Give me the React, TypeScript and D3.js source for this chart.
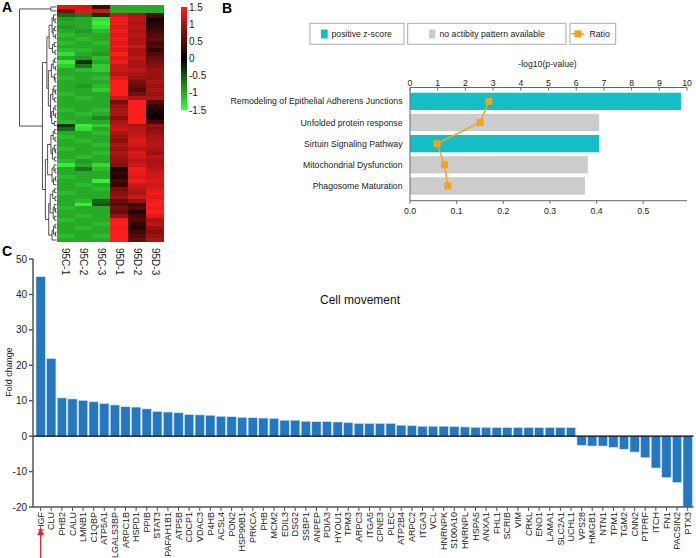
import React from "react";
import * as d3 from "d3";

// ---------- Panel A data ----------
const samples = ["95C-1", "95C-2", "95C-3", "95D-1", "95D-2", "95D-3"];
const heatRows: number[][] = [
  [1.3, 1.2, 0.4, -1.0, -1.0, -1.0],
  [0.7, 1.3, 1.2, -1.0, -1.0, -1.0],
  [-0.6, -0.7, -0.3, 1.2, 1.0, 0.5],
  [-0.9, -1.0, -1.3, 1.4, 1.1, 0.1],
  [-1.0, -1.0, -1.4, 1.4, 1.0, 0.2],
  [-0.9, -1.0, -1.3, 1.3, 1.1, 0.3],
  [-1.0, -0.9, -1.1, 1.4, 1.0, 0.4],
  [-1.1, -1.0, -1.0, 1.3, 1.1, 0.5],
  [-1.0, -1.1, -1.0, 1.4, 1.0, 0.6],
  [-1.1, -1.0, -1.1, 1.3, 1.0, 0.4],
  [-1.0, -1.0, -1.0, 1.4, 1.2, 0.5],
  [-1.1, -1.1, -1.0, 1.3, 1.0, 0.3],
  [-1.3, -1.0, -0.9, 1.5, 1.0, 0.5],
  [-1.0, -0.9, -1.1, 1.3, 1.1, 0.6],
  [-1.4, -0.3, -1.0, 1.4, 1.0, 0.7],
  [-1.2, -0.7, -1.2, 1.2, 1.0, 0.8],
  [-1.0, -1.1, -1.2, 1.2, 1.1, 0.9],
  [-1.0, -1.0, -1.0, 1.1, 1.0, 0.9],
  [-1.1, -1.0, -1.1, 1.3, 0.9, 0.9],
  [-1.0, -1.0, -1.0, 1.5, 0.7, 1.0],
  [-1.0, -0.9, -1.1, 1.5, 0.6, 0.9],
  [-1.0, -1.0, -1.2, 1.5, 0.5, 1.0],
  [-1.1, -1.0, -1.0, 1.5, 0.7, 0.9],
  [-1.0, -1.1, -1.0, 1.2, 1.0, 1.0],
  [-1.0, -1.0, -1.0, 0.7, 1.5, 0.5],
  [-1.0, -1.0, -1.0, 0.9, 1.5, 0.3],
  [-1.1, -1.0, -1.1, 1.0, 1.5, 0.2],
  [-1.0, -1.1, -1.0, 1.0, 1.5, 0.1],
  [-1.0, -1.0, -0.8, 0.8, 1.5, 0.1],
  [-1.1, -1.0, -1.0, 1.0, 1.5, 0.4],
  [-0.3, -1.4, -1.2, 1.1, 1.0, 0.9],
  [-0.6, -1.3, -1.0, 1.2, 1.1, 0.8],
  [-1.0, -1.0, -1.1, 1.0, 1.1, 0.9],
  [-1.1, -1.0, -1.0, 0.9, 1.2, 1.0],
  [-1.0, -1.1, -1.0, 0.8, 1.3, 1.0],
  [-1.0, -1.0, -1.1, 1.0, 1.2, 1.1],
  [-1.1, -1.0, -1.0, 0.9, 1.1, 1.0],
  [-1.0, -1.0, -1.1, 1.0, 1.3, 0.9],
  [-1.0, -1.1, -1.0, 0.9, 1.2, 1.1],
  [-1.1, -0.9, -1.0, 0.9, 1.1, 1.0],
  [-1.4, -1.0, -1.3, 0.8, 1.2, 1.0],
  [-1.0, -0.7, -1.1, 0.1, 1.4, 1.1],
  [-1.0, -1.0, -1.0, 0.3, 1.4, 1.2],
  [-1.1, -1.0, -1.0, 0.2, 1.3, 1.2],
  [-1.0, -1.0, -1.4, 0.4, 1.4, 1.3],
  [-1.0, -1.1, -1.0, 0.3, 1.2, 1.2],
  [-1.0, -1.0, -1.1, 0.7, 1.1, 1.3],
  [-1.1, -1.0, -1.0, 0.8, 1.0, 1.4],
  [-1.0, -1.0, -1.0, 0.9, 1.2, 1.3],
  [-1.0, -1.1, -0.6, 0.6, 0.9, 1.4],
  [-1.0, -1.4, -0.5, 0.5, 0.3, 1.5],
  [-1.1, -1.0, -1.0, 0.7, 0.5, 1.4],
  [-1.0, -1.0, -1.0, 0.6, 0.2, 1.5],
  [-1.0, -1.1, -1.0, 0.9, 0.4, 1.3],
  [-1.1, -1.0, -1.0, 1.5, 0.5, 1.0],
  [-1.0, -1.0, -1.1, 1.5, 0.3, 1.1],
  [-1.0, -1.1, -1.0, 1.4, 0.2, 0.9],
  [-1.0, -1.0, -1.0, 1.5, 0.4, 0.8],
  [-1.1, -1.0, -1.1, 1.5, 0.5, 0.9],
  [-1.0, -1.0, -1.0, 1.5, 0.6, 1.0],
];
// merge height between adjacent rows i and i+1 (dendrogram)
const mergeGaps = [
  1.5, 10, 0.8, 0.4, 1.2, 0.5, 0.9, 0.3, 2.0, 0.6, 1.1, 0.4, 2.6, 0.5, 0.9,
  0.3, 1.4, 0.6, 0.4, 2.2, 0.7, 0.3, 1.0, 0.5, 1.6, 0.4, 0.8, 0.3, 1.3, 0.6,
  3.8, 0.5, 0.9, 0.4, 1.5, 0.6, 0.3, 1.1, 0.5, 2.4, 0.7, 0.4, 1.2, 0.3, 0.8,
  3.0, 0.5, 1.0, 0.4, 1.7, 0.6, 0.3, 0.9, 0.5, 2.1, 0.4, 0.8, 0.3, 1.2,
];
const colorTicks = [1.5, 1, 0.5, 0, -0.5, -1, -1.5];

// ---------- Panel B data ----------
const pathways = [
  "Remodeling of Epithelial Adherens Junctions",
  "Unfolded protein response",
  "Sirtuin Signaling Pathway",
  "Mitochondrial Dysfunction",
  "Phagosome Maturation",
];
const pathwayLogP = [9.78, 6.83, 6.83, 6.42, 6.32];
const pathwayRatio = [0.169, 0.15, 0.058, 0.074, 0.081];
const pathwayZ = ["positive", "none", "positive", "none", "none"];
const topTicks = [0, 1, 2, 3, 4, 5, 6, 7, 8, 9, 10];
const ratioTicks = [0, 0.1, 0.2, 0.3, 0.4, 0.5];

// ---------- Panel C data ----------
const genes = [
  "HGF", "CLU", "PHB2", "CALU", "LMNB1", "C1QBP", "ATP5A1", "LGALS3BP", "ARPC1B",
  "HSPD1", "PPIB", "STAT3", "PAFAH1B1", "ATP5B", "CDCP1", "VDAC3", "P4HB", "ACSL4",
  "PON2", "HSP90B1", "PRKCA", "PHB", "MCM2", "EDIL3", "DSG2", "SSBP1", "ANPEP",
  "PDIA3", "HYOU1", "TPM3", "ARPC3", "ITGA5", "CPNE3", "PLEC", "ATP2B4", "ARPC2",
  "ITGA3", "VCL", "HNRNPK", "S100A10", "HNRNPL", "HSPA5", "ANXA1", "FHL1", "SCRIB",
  "VIM", "CRKL", "ENO1", "LAMA1", "SLC2A1", "UCHL1", "VPS28", "HMGB1", "NTN1",
  "TPM1", "TGM2", "CNN2", "PTPRF", "ITCH", "FN1", "PACSIN2", "PTX3",
];
const foldChange = [
  45, 21.9, 10.8, 10.5, 10.1, 9.7, 9.2, 8.8, 8.3, 8.2, 7.7, 7.0, 6.8, 6.6, 6.1,
  6.0, 5.9, 5.6, 5.5, 5.3, 5.2, 5.1, 5.0, 4.5, 4.5, 4.2, 4.1, 4.1, 4.0, 3.8, 3.6,
  3.6, 3.6, 3.6, 3.1, 3.0, 2.8, 2.8, 2.8, 2.7, 2.6, 2.5, 2.5, 2.4, 2.4, 2.4, 2.4,
  2.4, 2.4, 2.4, 2.4, -2.6, -2.8, -2.8, -3.2, -3.7, -4.5, -6.1, -9.0, -11.7,
  -13.1, -20,
];
const foldTicks = [50, 40, 30, 20, 10, 0, -10, -20];

const FONT = "'Liberation Sans', Arial, Helvetica, sans-serif";

type Node = { h: number; y: number; left?: Node; right?: Node };

function buildTree(lo: number, hi: number, rowY: (i: number) => number): Node {
  if (lo === hi) return { h: 0, y: rowY(lo) };
  let k = lo;
  for (let i = lo; i < hi; i++) if (mergeGaps[i] > mergeGaps[k]) k = i;
  const left = buildTree(lo, k, rowY);
  const right = buildTree(k + 1, hi, rowY);
  return { h: mergeGaps[k], y: (left.y + right.y) / 2, left, right };
}

export default function App() {
  // ----- Panel A -----
  const heatX = d3.scaleBand<string>().domain(samples).range([56.7, 164]);
  const heatY = d3
    .scaleBand<number>()
    .domain(heatRows.map((_, i) => i))
    .range([5, 242]);
  const color = d3
    .scaleLinear<string>()
    .domain([-1.5, 0, 1.5])
    .range(["#3cff3c", "#000000", "#ff1e1e"])
    .clamp(true);
  const dendX = d3.scaleLinear().domain([0, 10]).range([56.5, 19.5]);
  const tree = buildTree(0, heatRows.length - 1, (i) => (heatY(i) as number) + heatY.bandwidth() / 2);
  const dendSegs: string[] = [];
  const walk = (n: Node) => {
    if (!n.left || !n.right) return;
    const x = dendX(n.h);
    dendSegs.push(`M${x},${n.left.y}V${n.right.y}`);
    dendSegs.push(`M${x},${n.left.y}H${dendX(n.left.h)}`);
    dendSegs.push(`M${x},${n.right.y}H${dendX(n.right.h)}`);
    walk(n.left);
    walk(n.right);
  };
  walk(tree);
  const cbY = d3.scaleLinear().domain([1.5, -1.5]).range([7, 110]);

  // ----- Panel B -----
  const xTop = d3.scaleLinear().domain([0, 10]).range([410, 687]);
  const xRatio = d3.scaleLinear().domain([0, 0.5]).range([410, 643.3]);
  const yPath = d3
    .scaleBand<string>()
    .domain(pathways)
    .range([90.8, 196.5])
    .paddingInner(0.18)
    .paddingOuter(0.09);
  const ratioLine = d3
    .line<number>()
    .x((d) => xRatio(d))
    .y((_, i) => (yPath(pathways[i]) as number) + yPath.bandwidth() / 2);
  const teal = "#14bec4";
  const grayBar = "#cccccc";
  const orange = "#f5a31f";
  const fsB = 8.7;

  // ----- Panel C -----
  const xGene = d3.scaleBand<string>().domain(genes).range([34.7, 693.6]).padding(0.12);
  const yFold = d3.scaleLinear().domain([-20, 50]).range([507, 259]);
  const blue = "#2577bf";

  return (
    <svg
      width={696}
      height={558}
      style={{ position: "absolute", left: 0, top: 0, background: "#fff" }}
      fontFamily={FONT}
    >
      {/* Panel labels */}
      <text x={2} y={12} fontSize={14} fontWeight="bold">A</text>
      <text x={222} y={13} fontSize={14} fontWeight="bold">B</text>
      <text x={2} y={256} fontSize={14} fontWeight="bold">C</text>

      {/* Heatmap */}
      <g shapeRendering="crispEdges">
        {heatRows.map((row, i) =>
          row.map((v, j) => (
            <rect
              key={`${i}-${j}`}
              x={heatX(samples[j])}
              y={heatY(i)}
              width={heatX.bandwidth() + 0.3}
              height={heatY.bandwidth() + 0.3}
              fill={color(v)}
            />
          ))
        )}
      </g>
      <path d={dendSegs.join("")} fill="none" stroke="#222" strokeWidth={0.8} />
      {samples.map((s) => (
        <text
          key={s}
          transform={`translate(${(heatX(s) as number) + heatX.bandwidth() / 2 - 3.5},248) rotate(90)`}
          fontSize={10}
          fill="#222"
        >
          {s}
        </text>
      ))}
      <defs>
        <linearGradient id="cbar" x1="0" y1="0" x2="0" y2="1">
          {colorTicks.map((t, i) => (
            <stop key={t} offset={i / (colorTicks.length - 1)} stopColor={color(t)} />
          ))}
        </linearGradient>
      </defs>
      <rect x={181} y={cbY(1.5)} width={6} height={cbY(-1.5) - cbY(1.5)} fill="url(#cbar)" />
      {colorTicks.map((t) => (
        <text key={t} x={189} y={cbY(t)} dy="0.35em" fontSize={10} fill="#222">
          {t}
        </text>
      ))}

      {/* Panel B legend */}
      <g fontSize={fsB} fill="#222">
        <rect x={310} y={23.3} width={94} height={21} fill="#fff" stroke="#aaa" />
        <rect x={321} y={29.5} width={6.7} height={9} fill={teal} />
        <text x={331.5} y={37}>positive z-score</text>
        <rect x={407.7} y={23.3} width={158.3} height={21} fill="#fff" stroke="#aaa" />
        <rect x={429} y={29.5} width={6.5} height={9} fill={grayBar} />
        <text x={439.5} y={37}>no actibity pattern available</text>
        <rect x={570} y={23.3} width={45.7} height={21} fill="#fff" stroke="#aaa" />
        <line x1={571.5} x2={584} y1={33.8} y2={33.8} stroke={orange} strokeWidth={1.5} />
        <rect x={574.5} y={30.3} width={7} height={7} fill={orange} />
        <text x={589.5} y={37}>Ratio</text>
        <text x={547.5} y={66.5} textAnchor="middle">-log10(p-value)</text>
      </g>

      {/* Panel B bars */}
      {pathways.map((p, i) => (
        <rect
          key={p}
          x={xTop(0)}
          y={yPath(p)}
          width={xTop(pathwayLogP[i]) - xTop(0)}
          height={yPath.bandwidth()}
          fill={pathwayZ[i] === "positive" ? teal : grayBar}
        />
      ))}
      {pathways.map((p) => (
        <text
          key={p}
          x={402.5}
          y={(yPath(p) as number) + yPath.bandwidth() / 2}
          dy="0.35em"
          textAnchor="end"
          fontSize={fsB}
          fill="#222"
        >
          {p}
        </text>
      ))}
      <g stroke="#666" strokeWidth={1}>
        <line x1={xTop(0)} x2={xTop(10)} y1={87.5} y2={87.5} />
        <line x1={xTop(0)} x2={xTop(0)} y1={87.5} y2={200.7} />
        <line x1={xTop(0)} x2={xTop(10)} y1={200.7} y2={200.7} />
        {topTicks.map((t) => (
          <line key={t} x1={xTop(t)} x2={xTop(t)} y1={87.5} y2={90.5} />
        ))}
        {ratioTicks.map((t) => (
          <line key={t} x1={xRatio(t)} x2={xRatio(t)} y1={200.7} y2={203.7} />
        ))}
      </g>
      {topTicks.map((t) => (
        <text key={t} x={xTop(t)} y={86} textAnchor="middle" fontSize={fsB} fill="#222">
          {t}
        </text>
      ))}
      {ratioTicks.map((t) => (
        <text key={t} x={xRatio(t)} y={214} textAnchor="middle" fontSize={fsB} fill="#222">
          {t.toFixed(1)}
        </text>
      ))}
      <path d={ratioLine(pathwayRatio) || ""} fill="none" stroke={orange} strokeWidth={1.5} />
      {pathwayRatio.map((r, i) => (
        <rect
          key={i}
          x={xRatio(r) - 3.5}
          y={(yPath(pathways[i]) as number) + yPath.bandwidth() / 2 - 3.5}
          width={7}
          height={7}
          fill={orange}
        />
      ))}

      {/* Panel C */}
      <text x={360} y={304} textAnchor="middle" fontSize={12} fill="#111">
        Cell movement
      </text>
      {genes.map((g, i) => {
        const v = foldChange[i];
        return (
          <rect
            key={g}
            x={xGene(g)}
            y={yFold(Math.max(0, v))}
            width={xGene.bandwidth()}
            height={Math.abs(yFold(v) - yFold(0))}
            fill={blue}
            stroke="#cfe5f6"
            strokeWidth={0.6}
          />
        );
      })}
      <line x1={33} x2={693.6} y1={yFold(0)} y2={yFold(0)} stroke="#000" strokeWidth={1.2} />
      <g stroke="#555" strokeWidth={1.5}>
        <line x1={33} x2={33} y1={yFold(50)} y2={yFold(-20)} />
        <line x1={33} x2={693.6} y1={yFold(-20)} y2={yFold(-20)} />
        {foldTicks.map((t) => (
          <line key={t} x1={29} x2={33} y1={yFold(t)} y2={yFold(t)} />
        ))}
        {genes.map((g) => (
          <line
            key={g}
            x1={(xGene(g) as number) + xGene.bandwidth() / 2}
            x2={(xGene(g) as number) + xGene.bandwidth() / 2}
            y1={yFold(-20)}
            y2={yFold(-20) + 4}
            strokeWidth={1}
          />
        ))}
      </g>
      {foldTicks.map((t) => (
        <text key={t} x={27} y={yFold(t)} dy="0.35em" textAnchor="end" fontSize={10} fill="#222">
          {t}
        </text>
      ))}
      <text
        transform="translate(12,372) rotate(-90)"
        textAnchor="middle"
        fontSize={9}
        fill="#222"
      >
        Fold change
      </text>
      {genes.map((g) => (
        <text
          key={g}
          transform={`translate(${(xGene(g) as number) + xGene.bandwidth() / 2},512) rotate(-90)`}
          dy="0.35em"
          textAnchor="end"
          fontSize={9}
          fill="#222"
        >
          {g}
        </text>
      ))}
      <g fill="#e8202a" stroke="#e8202a">
        <line
          x1={(xGene("HGF") as number) + xGene.bandwidth() / 2}
          x2={(xGene("HGF") as number) + xGene.bandwidth() / 2}
          y1={558}
          y2={534}
          strokeWidth={1.2}
        />
        <path
          d={`M${(xGene("HGF") as number) + xGene.bandwidth() / 2},528l-3,7h6z`}
          strokeWidth={0.5}
        />
      </g>
    </svg>
  );
}
